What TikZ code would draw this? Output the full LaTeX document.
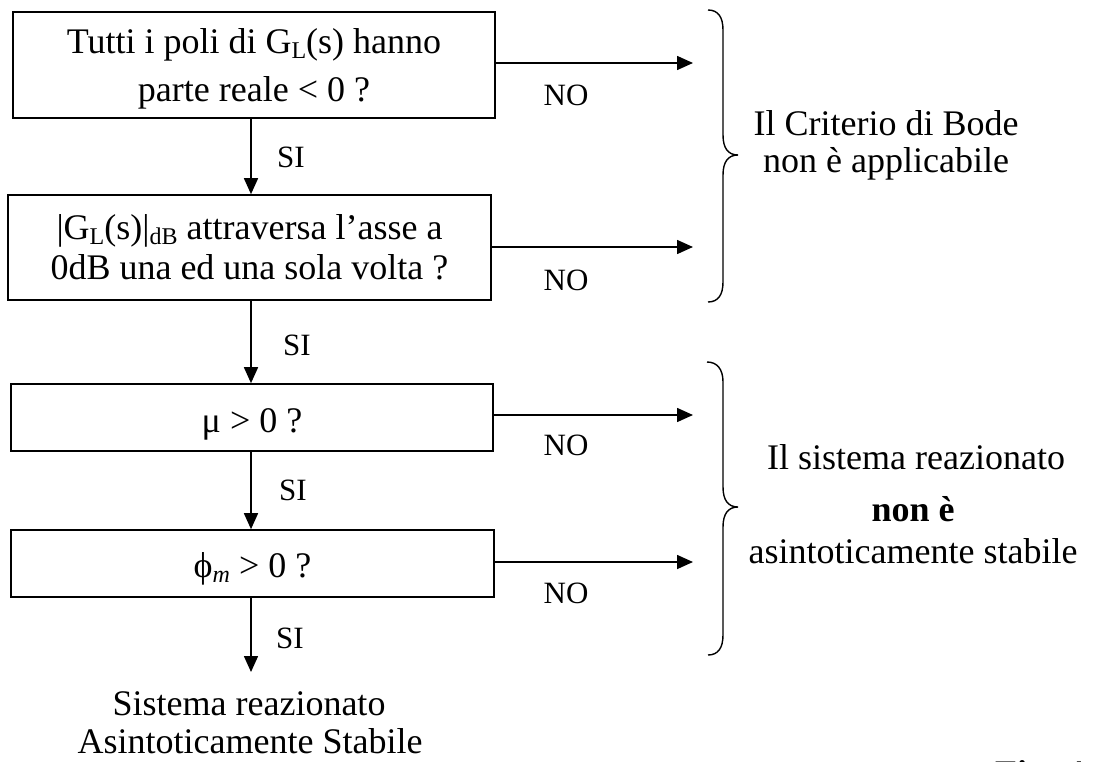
\documentclass[tikz,border=0pt]{standalone}
\usepackage{fontspec}
\setmainfont{Liberation Serif}
\usetikzlibrary{arrows.meta}
\newcommand\sbs[1]{\raisebox{-5pt}{\fontsize{24}{24}\selectfont #1}}
\begin{document}
\begin{tikzpicture}[x=1pt,y=-1pt,
  box/.style={draw,line width=1.6pt,inner sep=0pt,align=center,font=\fontsize{36}{40}\selectfont},
  lbl/.style={inner sep=0pt,font=\fontsize{31}{31}\selectfont},
  txt/.style={inner sep=0pt,anchor=base,font=\fontsize{36}{40}\selectfont},
  arr/.style={line width=1.6pt,-{Triangle[length=16pt,width=14pt]}},
  brc/.style={line width=1.4pt}]
\useasboundingbox (0,0) rectangle (1099,762);
\clip (0,0) rectangle (1099,762);

\node[box,minimum width=482pt,minimum height=106pt] (b1) at (254,65) {\rule{0pt}{32pt}Tutti i poli di G\sbs{L}(s) hanno\\[8pt]parte reale < 0 ?};
\node[box,minimum width=483pt,minimum height=105pt] (b2) at (249.5,247.5) {|G\sbs{L}(s)|\sbs{dB} attraversa l’asse a\\0dB una ed una sola volta ?};
\node[box,minimum width=482pt,minimum height=67pt,text height=30pt,text depth=1pt] (b3) at (252,417.5) {μ > 0 ?};
\node[box,minimum width=483pt,minimum height=67pt,text height=28pt,text depth=1pt] (b4) at (252.5,563.5) {ϕ\sbs{\itshape m} > 0 ?};

\coordinate (col) at (251,0);
\coordinate (out) at (251,672);
\draw[arr] (b1.south -| col) -- (b2.north -| col);
\draw[arr] (b2.south -| col) -- (b3.north -| col);
\draw[arr] (b3.south -| col) -- (b4.north -| col);
\draw[arr] (b4.south -| col) -- (out);

\coordinate (n1) at (693,63);
\coordinate (n2) at (693,247);
\coordinate (n3) at (693,415);
\coordinate (n4) at (693,562);
\draw[arr] (b1.east |- n1) -- (n1);
\draw[arr] (b2.east |- n2) -- (n2);
\draw[arr] (b3.east |- n3) -- (n3);
\draw[arr] (b4.east |- n4) -- (n4);

\node[lbl] (si1) at (291,157) {SI};
\node[lbl] (si2) at (297,345) {SI};
\node[lbl] (si3) at (293,490) {SI};
\node[lbl] (si4) at (290,638) {SI};
\node[lbl] (no1) at (566,95) {NO};
\node[lbl] (no2) at (566,280) {NO};
\node[lbl] (no3) at (566,445) {NO};
\node[lbl] (no4) at (566,593) {NO};

\draw[brc] (708,10) .. controls (718,10) and (723,17) .. (723,30) -- (723,135)
  .. controls (723,148) and (728,155) .. (738,155)
  .. controls (728,155) and (723,162) .. (723,175) -- (723,282)
  .. controls (723,295) and (718,302) .. (708,302);
\draw[brc] (707,362) .. controls (717,362) and (723,369) .. (723,382) -- (723,487)
  .. controls (723,500) and (728,507) .. (738,507)
  .. controls (728,507) and (723,514) .. (723,527) -- (723,635)
  .. controls (723,648) and (718,655) .. (708,655);

\node[txt] (r1a) at (886,136) {Il Criterio di Bode};
\node[txt] (r1b) at (886,172) {non è applicabile};
\node[txt] (r2a) at (916,469) {Il sistema reazionato};
\node[txt] (r2b) at (913,521) {\textbf{non è}};
\node[txt] (r2c) at (913,563) {asintoticamente stabile};

\node[txt] (res1) at (249,715) {Sistema reazionato};
\node[txt] (res2) at (250,753) {Asintoticamente Stabile};

\node[anchor=base west,inner sep=0pt,font=\bfseries\fontsize{36}{40}\selectfont] (fig) at (995,785) {Fig. 4.4};
\end{tikzpicture}
\end{document}
